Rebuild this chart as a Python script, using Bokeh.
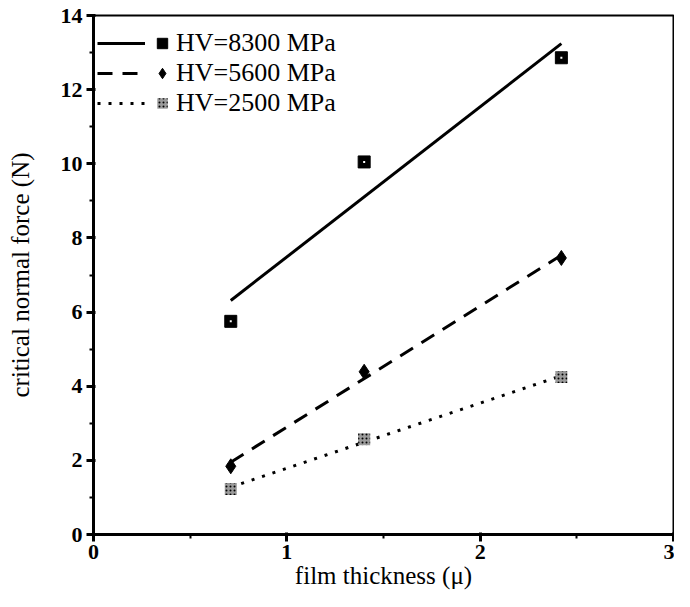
import numpy as np
from bokeh.plotting import figure
from bokeh.models import Range1d, Legend, LegendItem, FixedTicker
from bokeh.embed import file_html
from bokeh.resources import INLINE

# data
thickness = [0.71, 1.40, 2.42]
hv8300 = [5.75, 10.05, 12.86]
hv5600 = [1.84, 4.39, 7.46]
hv2500 = [1.23, 2.57, 4.25]
labels = ["HV=8300 MPa", "HV=5600 MPa", "HV=2500 MPa"]
x_ticks = [0, 1, 2, 3]
y_ticks = [0, 2, 4, 6, 8, 10, 12, 14]

FONT = "Liberation Serif"


def linear_fit(x, y):
    k, b = np.polyfit(x, y, 1)
    xs = [min(x), max(x)]
    return xs, [k * v + b for v in xs]


p = figure(width=674, height=591, output_backend="svg", toolbar_location=None,
           x_range=Range1d(0, 3), y_range=Range1d(0, 14),
           min_border_left=93, min_border_top=15, min_border_bottom=56, min_border_right=1)

p.background_fill_color = "white"
p.border_fill_color = "white"
p.grid.visible = False
p.outline_line_color = "black"
p.outline_line_width = 2

for ax in (p.xaxis[0], p.yaxis[0]):
    ax.axis_line_width = 3
    ax.major_tick_line_width = 3
    ax.minor_tick_line_width = 2
    ax.major_tick_out = 7
    ax.major_tick_in = 2
    ax.minor_tick_out = 4
    ax.minor_tick_in = 0
    ax.major_label_text_font = FONT
    ax.major_label_text_font_size = "22px"
    ax.major_label_text_font_style = "bold"
    ax.major_label_text_color = "black"
    ax.axis_label_text_font = FONT
    ax.axis_label_text_font_size = "25px"
    ax.axis_label_text_font_style = "normal"
    ax.axis_label_text_color = "black"

p.xaxis.ticker = FixedTicker(ticks=x_ticks, minor_ticks=[0.5, 1.5, 2.5])
p.yaxis.ticker = FixedTicker(ticks=y_ticks, minor_ticks=list(range(1, 14, 2)))
p.xaxis.axis_label = "film thickness (\u03bc)"
p.yaxis.axis_label = "critical normal force (N)"
p.xaxis.major_label_standoff = 3
p.yaxis.major_label_standoff = 4
p.xaxis.axis_label_standoff = 0
p.yaxis.axis_label_standoff = 24

fx1, fy1 = linear_fit(thickness, hv8300)
fx2, fy2 = linear_fit(thickness, hv5600)
fx3, fy3 = linear_fit(thickness, hv2500)

l1 = p.line(fx1, fy1, line_color="black", line_width=3)
l2 = p.line(fx2, fy2, line_color="black", line_width=3, line_dash="15 10")
l3 = p.line(fx3, fy3, line_color="black", line_width=3, line_dash="3 8")

s1 = p.scatter(thickness, hv8300, marker="square", size=12, fill_color="black", line_color="black")
p.scatter(thickness, hv8300, marker="square", size=2, line_color=None, fill_color="white")
s2 = p.scatter(thickness, hv5600, marker="diamond", size=15, fill_color="black", line_color="black")
s3 = p.scatter(thickness, hv2500, marker="square", size=12, fill_color="#9a9a9a", line_color=None,
               hatch_pattern="dot", hatch_color="black", hatch_scale=4, hatch_weight=1.5)

common = dict(glyph_height=30, label_height=30, spacing=0, padding=0, margin=0,
              border_line_color=None, background_fill_alpha=0,
              label_text_font=FONT, label_text_font_size="26px", label_text_color="black")

leg_lines = Legend(items=[LegendItem(label=" ", renderers=[l1]),
                          LegendItem(label=" ", renderers=[l2]),
                          LegendItem(label=" ", renderers=[l3])],
                   location=(4, 416), glyph_width=48, label_width=0, label_standoff=0, **common)
leg_marks = Legend(items=[LegendItem(label=labels[0], renderers=[s1]),
                          LegendItem(label=labels[1], renderers=[s2]),
                          LegendItem(label=labels[2], renderers=[s3])],
                   location=(56, 416), glyph_width=26, label_standoff=1, **common)
p.add_layout(leg_lines, "center")
p.add_layout(leg_marks, "center")

open("out.html", "w").write(file_html(p, INLINE))
